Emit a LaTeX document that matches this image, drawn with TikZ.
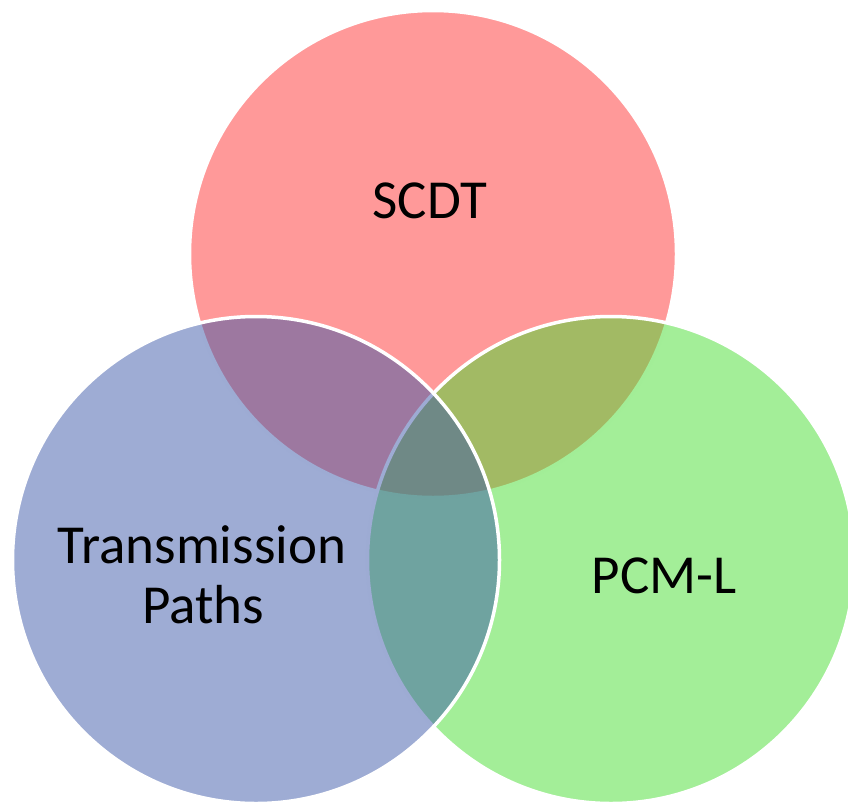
\documentclass[tikz,border=0pt]{standalone}
\usepackage{fontspec}
\setmainfont{Carlito}
\definecolor{setred}{RGB}{255,51,51}
\definecolor{setgreen}{RGB}{71,221,49}
\definecolor{setblue}{RGB}{61,89,169}
\tikzset{
  setdisc/.style={fill=#1, fill opacity=0.5, draw=white, draw opacity=1, line width=3.5pt},
  setlabel/.style={text=black, inner sep=0pt, font=\fontsize{55}{60}\selectfont},
}
\begin{document}
\begin{tikzpicture}[x=1pt, y=-1pt]
  \useasboundingbox (0,0) rectangle (848,803);
  % three overlapping sets, drawn red, green, blue
  \path[setdisc=setred]   (433,254) circle[radius=243.5pt];
  \path[setdisc=setgreen] (611,560) circle[radius=243.5pt];
  \path[setdisc=setblue]  (256,560) circle[radius=243.5pt];
  % labels
  \node[setlabel, anchor=base] (scdt) at (430,218) {SCDT};
  \node[setlabel, anchor=base] (tp1) at (202,563) {Transmission};
  \node[setlabel, anchor=base] (tp2) at (203,623) {Paths};
  \node[setlabel, anchor=base] (pcml) at (664,593) {PCM-L};
\end{tikzpicture}
\end{document}
